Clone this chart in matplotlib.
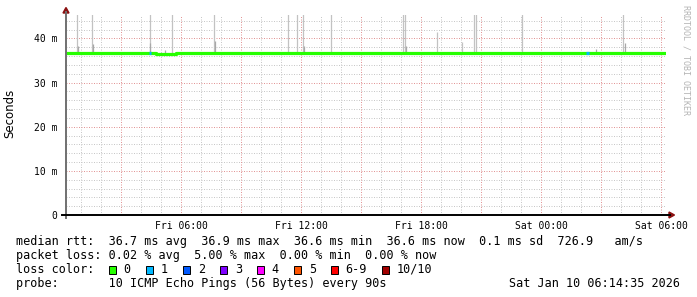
import numpy as np
import matplotlib
matplotlib.use("Agg")
import matplotlib.pyplot as plt
from matplotlib.patches import Polygon, Rectangle

# ---------------- data ----------------
t_start = 0.243          # Fri 00:14:35 (hours since Fri 00:00)
t_end = 30.243           # Sat 06:14:35
y_max = 45.4             # ms

# median rtt (ms), 30-minute steps starting at t_start
median_ms = [36.7, 36.7, 36.7, 36.7, 36.7, 36.7, 36.7, 36.7, 36.7, 36.5,
             36.5, 36.7, 36.7, 36.7, 36.7, 36.7, 36.7, 36.7, 36.7, 36.7,
             36.7, 36.7, 36.6, 36.6, 36.7, 36.7, 36.7, 36.7, 36.7, 36.7,
             36.7, 36.7, 36.7, 36.7, 36.7, 36.7, 36.7, 36.7, 36.7, 36.7,
             36.7, 36.7, 36.7, 36.7, 36.7, 36.7, 36.7, 36.7, 36.7, 36.7,
             36.7, 36.7, 36.7, 36.7, 36.7, 36.7, 36.7, 36.7, 36.7, 36.6]

# smoke spikes (max ping) : hour, top value in ms (>y_max = off scale)
spike_hours = [0.81, 1.56, 4.46, 5.56, 7.66, 11.36, 11.81, 12.11, 13.51,
               17.11, 17.21, 18.81, 20.04, 20.66, 20.76, 23.06, 28.11]
spike_top_ms = [46.0, 46.0, 46.0, 46.0, 46.0, 46.0, 46.0, 46.0, 46.0,
                46.0, 46.0, 41.5, 39.2, 46.0, 46.0, 46.0, 46.0]

# inner smoke (darker) : hour, top value in ms
stub_hours = [0.86, 1.61, 4.46, 7.71, 12.16, 17.26, 28.18, 5.21, 26.76]
stub_top_ms = [38.2, 38.8, 39.0, 39.3, 38.2, 38.3, 39.0, 37.4, 37.5]

# packet loss events : hour, loss level (index into loss colors)
loss_hours = [4.45, 26.31]
loss_level = [1, 1]

loss_labels = ["0", "1", "2", "3", "4", "5", "6-9", "10/10"]
loss_colors = ["#26ff00", "#00b8ff", "#0059ff", "#7e00ff", "#ff00ff",
               "#ff5500", "#ff0000", "#a10000"]

x_tick_hours = [6, 12, 18, 24, 30]
x_tick_labels = ["Fri 06:00", "Fri 12:00", "Fri 18:00", "Sat 00:00", "Sat 06:00"]
y_tick_values = [0, 10, 20, 30, 40]
y_tick_labels = ["0", "10 m", "20 m", "30 m", "40 m"]

legend_lines = [
    "median rtt:  36.7 ms avg  36.9 ms max  36.6 ms min  36.6 ms now  0.1 ms sd  726.9   am/s",
    "packet loss: 0.02 % avg  5.00 % max  0.00 % min  0.00 % now",
    "loss color:",
    "probe:       10 ICMP Echo Pings (56 Bytes) every 90s",
]
date_text = "Sat Jan 10 06:14:35 2026"

# ---------------- figure ----------------
W, H = 697, 297
fig = plt.figure(figsize=(W / 100, H / 100), dpi=100)
fig.patch.set_facecolor("white")

def fx(x):
    return x / W

def fy(y):
    return 1 - y / H

L, R, T, B = 66, 666, 14.5, 215
ax = fig.add_axes([fx(L), fy(B), (R - L) / W, (B - T) / H])
ax.set_xlim(t_start, t_end)
ax.set_ylim(0, y_max)
for s in ax.spines.values():
    s.set_visible(False)
ax.set_facecolor("white")

dot = (0, (1, 1.5))
minor_c = "#c8c8c8"
major_c = "#e29696"
gkw = dict(lw=0.72, ls=dot, snap=True)
# horizontal grid
for v in np.arange(2, y_max, 2):
    if v % 10 == 0:
        continue
    ax.axhline(v, color=minor_c, zorder=0, **gkw)
for v in y_tick_values[1:]:
    ax.axhline(v, color=major_c, zorder=0.5, **gkw)
# vertical grid
for h in range(1, 31):
    if h % 3 == 0:
        continue
    ax.axvline(h, color=minor_c, zorder=0, **gkw)
for h in range(3, 31, 3):
    ax.axvline(h, color=major_c, zorder=0.5, **gkw)

# median series as steps
m_t = list(t_start + 0.5 * np.arange(len(median_ms))) + [t_end]
m_v = list(median_ms) + [median_ms[-1]]

def median_at(h):
    i = int((h - t_start) / 0.5)
    i = max(0, min(i, len(median_ms) - 1))
    return median_ms[i]

# smoke
for h, top in zip(spike_hours, spike_top_ms):
    ax.vlines(h, median_at(h), top, color="#c2c2c2", lw=0.9, zorder=2)
for h, top in zip(stub_hours, stub_top_ms):
    ax.vlines(h, median_at(h), top, color="#a8a8a8", lw=0.9, zorder=2.1)

ax.step(m_t, m_v, where="post", color=loss_colors[0], lw=2.3, zorder=3,
        solid_capstyle="butt")
for h, lv in zip(loss_hours, loss_level):
    ax.plot([h - 0.05, h + 0.06], [median_at(h)] * 2, color=loss_colors[lv],
            lw=2.3, zorder=4, solid_capstyle="butt")

ax.set_xticks(x_tick_hours)
ax.set_xticklabels(x_tick_labels, family="DejaVu Sans Mono", fontsize=7)
ax.set_yticks(y_tick_values)
ax.set_yticklabels(y_tick_labels, family="DejaVu Sans Mono", fontsize=7)
ax.tick_params(axis="both", length=0)
ax.tick_params(axis="x", pad=4)
ax.tick_params(axis="y", pad=6)

# axes lines
fig.add_artist(plt.Line2D([fx(L), fx(L)], [fy(B + 3), fy(12)], color="#707070", lw=1.4))
fig.add_artist(plt.Line2D([fx(62), fx(670)], [fy(B), fy(B)], color="black", lw=1.4))
arrow_c = "#8b1010"
fig.add_artist(Polygon([[fx(L - 3), fy(13)], [fx(L + 3), fy(13)], [fx(L), fy(7.5)]],
                       closed=True, color=arrow_c, transform=fig.transFigure))
fig.add_artist(Polygon([[fx(669), fy(B - 3)], [fx(669), fy(B + 3)], [fx(674.5), fy(B)]],
                       closed=True, color=arrow_c, transform=fig.transFigure))

# labels
fig.text(fx(10), fy(113), "Seconds", rotation=90, ha="center", va="center",
         fontsize=8.5, family="DejaVu Sans")
fig.text(fx(686), fy(5), "RRDTOOL / TOBI OETIKER", rotation=-90, ha="center", va="top",
         fontsize=6, family="DejaVu Sans Mono", color="#b4b4b4")

# legend
rows_y = [241.5, 255.5, 269.5, 283.5]
for line, yy in zip(legend_lines, rows_y):
    fig.text(fx(16), fy(yy), line, ha="left", va="center", fontsize=8.5,
             family="DejaVu Sans Mono")
fig.text(fx(680), fy(rows_y[3]), date_text, ha="right", va="center", fontsize=8.5,
         family="DejaVu Sans Mono")

box_x = 108.7
for lab, col in zip(loss_labels, loss_colors):
    fig.add_artist(Rectangle((fx(box_x), fy(273.5)), 7.5 / W, 7.5 / H,
                             facecolor=col, edgecolor="black", lw=0.7,
                             transform=fig.transFigure))
    fig.text(fx(box_x + 15), fy(rows_y[2]), lab, ha="left", va="center",
             fontsize=8.5, family="DejaVu Sans Mono")
    box_x += 37 + 7.1 * (len(lab) - 1)

fig.savefig("out.png", dpi=100)
